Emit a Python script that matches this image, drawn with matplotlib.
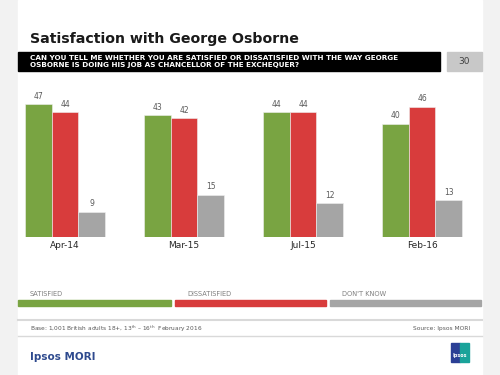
# Ipsos MORI slide: satisfaction with George Osborne
import numpy as np
import matplotlib.pyplot as plt
from matplotlib.patches import Rectangle

waves = ['Apr-14', 'Mar-15', 'Jul-15', 'Feb-16']
satisfied = [47, 43, 44, 40]
dissatisfied = [44, 42, 44, 46]
dont_know = [9, 15, 12, 13]
series_names = ['SATISFIED', 'DISSATISFIED', "DON'T KNOW"]
colors = ['#79a442', '#d83c3c', '#a5a5a5']

W, H = 500, 375
fig = plt.figure(figsize=(5, 3.75), dpi=100)

# background layer in pixel coords
bg = fig.add_axes([0, 0, 1, 1])
bg.set_xlim(0, W)
bg.set_ylim(H, 0)
bg.axis('off')
bg.add_patch(Rectangle((0, 0), W, H, color='#f2f2f2', zorder=0))
bg.add_patch(Rectangle((18, 0), 464, H, color='white', zorder=1))

bg.text(30, 39, 'Satisfaction with George Osborne', fontsize=10.2, fontweight='bold',
        color='#1a1a1a', va='center', ha='left', zorder=3)
bg.add_patch(Rectangle((18, 52), 422, 19, color='black', zorder=2))
bg.text(30, 61.5, 'CAN YOU TELL ME WHETHER YOU ARE SATISFIED OR DISSATISFIED WITH THE WAY GEORGE\n'
        'OSBORNE IS DOING HIS JOB AS CHANCELLOR OF THE EXCHEQUER?',
        fontsize=5.2, fontweight='bold', color='white', va='center', ha='left',
        linespacing=1.1, zorder=3)
bg.add_patch(Rectangle((447, 52), 35, 19, color='#c8c8c8', zorder=2))
bg.text(464.5, 61.5, '30', fontsize=6.5, color='#404040', va='center', ha='center', zorder=3)

# legend strip
leg_x = [(18, 171), (175, 326), (330, 481)]
for (x0, x1), name, c in zip(leg_x, series_names, colors):
    bg.add_patch(Rectangle((x0, 300), x1 - x0, 5.5, color=c, zorder=2))
    bg.text(x0 + 12, 294.5, name, fontsize=4.8, color='#7f7f7f', va='center', ha='left', zorder=3)

# footer
bg.plot([18, 482], [320, 320], color='#d9d9d9', lw=1.5, zorder=2)
bg.plot([18, 482], [336, 336], color='#d9d9d9', lw=1, zorder=2)
bg.text(30, 328.5, 'Base: 1,001 British adults 18+, 13$^{\\rm th}$ \u2013 16$^{\\rm th}$  February 2016',
        fontsize=4.2, color='#595959', va='center', ha='left', zorder=3)
bg.text(470, 328.5, 'Source: Ipsos MORI', fontsize=4.2, color='#595959',
        va='center', ha='right', zorder=3)
bg.text(30, 357, 'Ipsos MORI', fontsize=7.5, fontweight='bold', color='#2e4a8e',
        va='center', ha='left', zorder=3)
bg.add_patch(Rectangle((451, 343), 9, 19, color='#2b3f95', zorder=2))
bg.add_patch(Rectangle((460, 343), 9, 19, color='#1aa39a', zorder=2))
bg.text(460, 356, 'Ipsos', fontsize=3.5, color='white', ha='center', va='center',
        fontweight='bold', zorder=3)

# chart
ax = fig.add_axes([18 / W, 1 - 237 / H, 464 / W, (237 - 85) / H])
ax.patch.set_alpha(0)
x = np.arange(len(waves))
bw = 0.223
for i, (vals, c) in enumerate(zip([satisfied, dissatisfied, dont_know], colors)):
    pos = x + (i - 1) * bw
    ax.bar(pos, vals, width=bw, color=c, edgecolor='#f0f0f0', linewidth=0.4)
    for p, v in zip(pos, vals):
        ax.text(p, v + 1.2, str(v), fontsize=5.5, color='#595959', ha='center', va='bottom')

ax.set_xlim(-0.395, 3.504)
ax.set_ylim(0, 53.7)
ax.set_xticks(x)
ax.set_xticklabels(waves, fontsize=6.5, color='#262626')
ax.tick_params(axis='x', length=0, pad=3)
ax.set_yticks([])
for s in ax.spines.values():
    s.set_visible(False)

fig.savefig('out.png', dpi=100)
